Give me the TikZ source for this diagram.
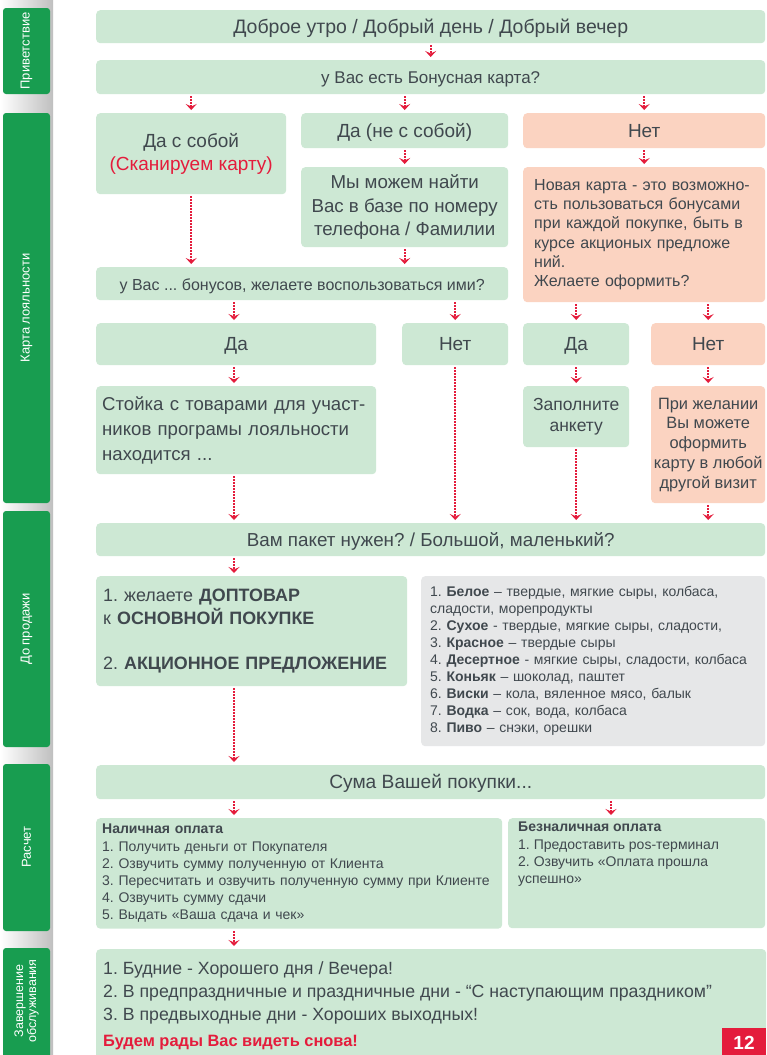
\documentclass[tikz,border=0pt]{standalone}
\usepackage{fontspec}
\setmainfont{Liberation Sans}
\usetikzlibrary{arrows.meta,calc}
\frenchspacing

\definecolor{boxgreen}{RGB}{205,232,212}
\definecolor{boxsalmon}{RGB}{251,211,193}
\definecolor{boxgray}{RGB}{230,231,232}
\definecolor{tabgreen}{RGB}{24,157,80}
\definecolor{arrred}{RGB}{228,28,60}
\definecolor{txtdark}{RGB}{64,72,78}

\newcommand\fs[2]{\fontsize{#1}{#2}\selectfont}

\tikzset{
  box/.style={fill=boxgreen, rounded corners=4pt, anchor=north west,
    inner sep=6pt, text=txtdark, align=center, font=\fs{19}{23}},
  oneline/.style={text height=15pt, text depth=1.5pt},
  salmon/.style={box, fill=boxsalmon},
  graybox/.style={box, fill=boxgray},
  tab/.style={fill=tabgreen, rounded corners=3pt},
  tablabel/.style={rotate=90, text=white, font=\fs{13}{14}, align=center},
  arr/.style={draw=arrred, line width=2pt, densely dotted,
    -{Stealth[length=6pt,width=11pt,inset=2.5pt]}, shorten <=2pt, shorten >=3pt}
}

\begin{document}
\begin{tikzpicture}[x=1pt,y=-1pt]
\useasboundingbox (0,0) rectangle (766,1055);
\fill[white] (0,0) rectangle (766,1055);

% side tabs
\shade[left color=white, right color=black!25] (0,0) rectangle (53,1055);
\fill[tab] (3,8) rectangle (50,94);
\fill[tab] (3,113) rectangle (50,503);
\fill[tab] (3,511) rectangle (50,747);
\fill[tab] (3,764) rectangle (50,931);
\fill[tab] (3,948) rectangle (50,1062);
\node[tablabel] (t1) at (26.5,51) {Приветствие};
\node[tablabel] (t2) at (26.5,308) {Карта лояльности};
\node[tablabel] (t3) at (26.5,629) {До продажи};
\node[tablabel] (t4) at (26.5,847) {Расчет};
\node[tablabel, font=\fs{12.5}{13}] (t5) at (26.5,1001) {Завершение\\обслуживания};

% columns for the arrows
\coordinate (colA) at (234,0);
\coordinate (colB) at (611,0);

% greeting and card
\node[box, oneline, minimum width=669pt, minimum height=33pt, font=\fs{19.5}{23}] (greet) at (96,10) {Доброе утро / Добрый день / Добрый вечер};
\node[box, oneline, minimum width=669pt, minimum height=34pt, font=\fs{17}{21}] (bonus) at (96,60) {у Вас есть Бонусная карта?};

\node[box, minimum width=190pt, minimum height=81pt] (card) at (96,113) {Да с собой\\\textcolor{arrred}{(Сканируем карту)}};
\node[box, oneline, minimum width=207pt, minimum height=35pt] (notwith) at (301,113) {Да (не с собой)};
\node[box, minimum width=207pt, minimum height=80pt, font=\fs{18.7}{23.5}] (search) at (301,167) {Мы можем найти\\Вас в базе по номеру\\телефона / Фамилии};
\node[salmon, oneline, minimum width=242pt, minimum height=35pt] (no) at (523,113) {Нет};
\node[salmon, minimum width=242pt, minimum height=135pt, inner sep=11pt, text width=220pt, align=left, font=\fs{16}{19.3}] (newcard) at (523,167)
  {Новая карта - это возможно-\\сть пользоваться бонусами\\при каждой покупке, быть в\\курсе акционых предложе\\ний.\\Желаете оформить?};

\node[box, oneline, minimum width=412pt, minimum height=33pt, font=\fs{16}{19}] (bonuses) at (96,267) {у Вас ... бонусов, желаете воспользоваться ими?};

\node[box, oneline, minimum width=280pt, minimum height=42pt] (yes1) at (96,323) {Да};
\node[box, oneline, minimum width=106pt, minimum height=42pt] (no1) at (402,323) {Нет};
\node[box, oneline, minimum width=106pt, minimum height=42pt] (yes2) at (523,323) {Да};
\node[salmon, oneline, minimum width=114pt, minimum height=42pt] (no2) at (651,323) {Нет};

\node[box, minimum width=280pt, minimum height=88pt, inner sep=6pt, text width=268pt, align=left, font=\fs{18.6}{25}] (stand) at (96,386)
  {Стойка с товарами для участ-\\ников програмы лояльности\\находится ...};
\node[box, minimum width=106pt, minimum height=61pt, font=\fs{17.5}{21}] (form) at (523,386) {Заполните\\анкету};
\node[salmon, minimum width=114pt, minimum height=117pt, inner sep=2pt, font=\fs{16.4}{19.7}] (later) at (651,386)
  {При желании\\Вы можете\\оформить\\карту в любой\\другой визит};

% sale
\node[box, oneline, minimum width=669pt, minimum height=33pt, font=\fs{18.8}{22}] (bag) at (96,523) {Вам пакет нужен? / Большой, маленький?};
\node[box, minimum width=311pt, minimum height=110pt, inner sep=7pt, text width=297pt, align=left, font=\fs{17.9}{22.5}] (extra) at (96,576)
  {1. желаете \textbf{ДОПТОВАР}\\к \textbf{ОСНОВНОЙ ПОКУПКЕ}\\[22.5pt]2. \textbf{АКЦИОННОЕ ПРЕДЛОЖЕНИЕ}};
\node[graybox, minimum width=344pt, minimum height=170pt, inner sep=9pt, text width=326pt, align=left, font=\fs{14}{17}] (pairs) at (421,576)
  {1. \textbf{Белое} – твердые, мягкие сыры, колбаса,\\
   сладости, морепродукты\\
   2. \textbf{Сухое} - твердые, мягкие сыры, сладости,\\
   3. \textbf{Красное} – твердые сыры\\
   4. \textbf{Десертное} - мягкие сыры, сладости, колбаса\\
   5. \textbf{Коньяк} – шоколад, паштет\\
   6. \textbf{Виски} – кола, вяленное мясо, балык\\
   7. \textbf{Водка} – сок, вода, колбаса\\
   8. \textbf{Пиво} – снэки, орешки};

% payment
\node[box, oneline, minimum width=669pt, minimum height=34pt, font=\fs{19.2}{22}] (sum) at (96,765) {Сума Вашей покупки...};
\node[box, minimum width=406pt, minimum height=110pt, inner sep=6pt, text width=394pt, align=left, font=\fs{14}{17.2}] (cash) at (96,818)
  {\textbf{Наличная оплата}\\
   1. Получить деньги от Покупателя\\
   2. Озвучить сумму полученную от Клиента\\
   3. Пересчитать и озвучить полученную сумму при Клиенте\\
   4. Озвучить сумму сдачи\\
   5. Выдать «Ваша сдача и чек»};
\node[box, minimum width=257pt, minimum height=110pt] (cardpay) at (508,818) {};
\node[anchor=north west, inner sep=0pt, align=left, text=txtdark, font=\fs{14}{17.2}] (cardtxt) at (518,822)
  {\textbf{Безналичная оплата}\\
   1. Предоставить pos-терминал\\
   2. Озвучить «Оплата прошла\\
   успешно»};

% goodbye
\node[box, minimum width=670pt, minimum height=115pt] (bye) at (96,949) {};
\node[anchor=north west, inner sep=0pt, align=left, text=txtdark, font=\fs{17.7}{23}] (byetxt) at (103,961)
  {1. Будние - Хорошего дня / Вечера!\\
   2. В предпраздничные и праздничные дни - “С наступающим праздником”\\
   3. В предвыходные дни - Хороших выходных!};
\node[anchor=west, inner sep=0pt, text=arrred, font=\bfseries\fs{16.4}{19}] (again) at (103,1043) {Будем рады Вас видеть снова!};
\fill[arrred] (722,1028) rectangle (766,1060);
\node[text=white, inner sep=0pt, font=\bfseries\fs{19}{20}] (page) at (744,1043) {12};

% arrows
\draw[arr] (greet.south -| bonus.north) -- (bonus.north);
\draw[arr] (bonus.south -| card.north) -- (card.north);
\draw[arr] (bonus.south -| notwith.north) -- (notwith.north);
\draw[arr] (bonus.south -| no.north) -- (no.north);
\draw[arr] (notwith.south) -- (search.north);
\draw[arr] (no.south) -- (newcard.north);
\draw[arr] (card.south) -- (card.south |- bonuses.north);
\draw[arr] (search.south) -- (search.south |- bonuses.north);

\draw[arr] (bonuses.south -| colA) -- (yes1.north -| colA);
\draw[arr] (bonuses.south -| no1.north) -- (no1.north);
\draw[arr] (newcard.south -| yes2.north) -- (yes2.north);
\draw[arr] (newcard.south -| no2.north) -- (no2.north);
\draw[arr] (yes1.south -| colA) -- (stand.north -| colA);
\draw[arr] (yes2.south) -- (form.north);
\draw[arr] (no2.south) -- (later.north);

\draw[arr] (stand.south -| colA) -- (bag.north -| colA);
\draw[arr] (no1.south) -- (no1.south |- bag.north);
\draw[arr] (form.south) -- (form.south |- bag.north);
\draw[arr] (later.south) -- (later.south |- bag.north);

\draw[arr] (bag.south -| colA) -- (extra.north -| colA);
\draw[arr] (extra.south -| colA) -- (sum.north -| colA);
\draw[arr] (sum.south -| colA) -- (cash.north -| colA);
\draw[arr] (sum.south -| colB) -- (cardpay.north -| colB);
\draw[arr] (cash.south -| colA) -- (bye.north -| colA);
\end{tikzpicture}
\end{document}
